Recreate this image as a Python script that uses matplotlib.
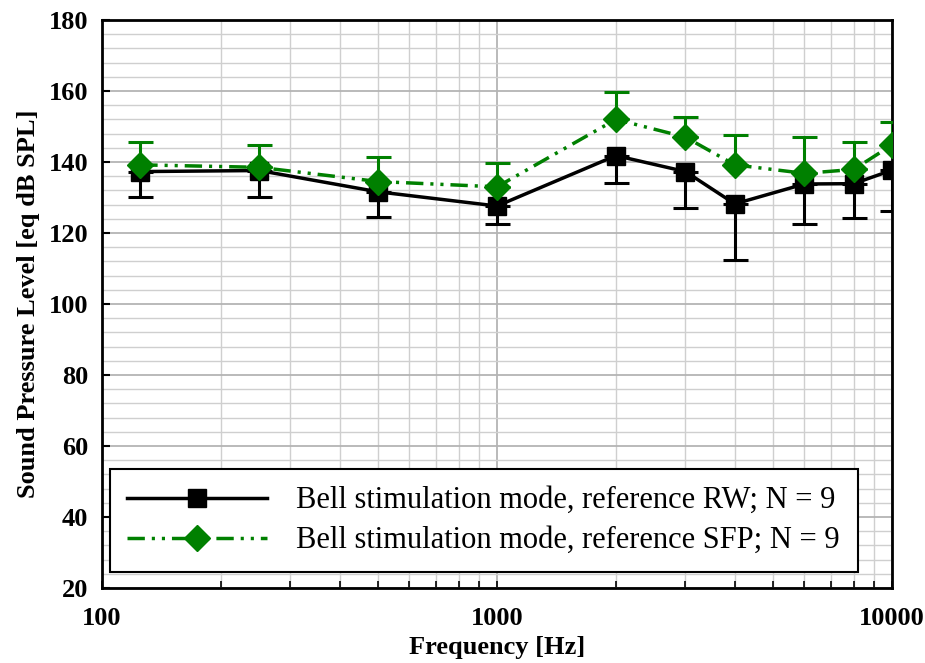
import matplotlib
matplotlib.use("Agg")
import matplotlib.pyplot as plt
import numpy as np
from matplotlib.ticker import FixedLocator, NullFormatter, MultipleLocator, LogLocator

freqs = [125, 250, 500, 1000, 2000, 3000, 4000, 6000, 8000, 10000]
rw_mean = [137.3, 137.6, 131.6, 127.6, 141.8, 137.3, 128.2, 133.8, 133.9, 137.7]
rw_err_low = [7.1, 7.4, 7.2, 5.1, 7.8, 10.3, 15.8, 11.3, 9.6, 11.5]
sfp_mean = [139.2, 138.5, 134.5, 133.0, 152.0, 147.0, 139.2, 136.8, 137.9, 144.8]
sfp_err_up = [6.3, 6.3, 6.8, 6.6, 7.6, 5.8, 8.4, 10.3, 7.7, 6.6]

x_ticks = [100, 1000, 10000]
x_tick_labels = ["100", "1000", "10000"]
y_ticks = [20, 40, 60, 80, 100, 120, 140, 160, 180]

label_rw = "Bell stimulation mode, reference RW; N = 9"
label_sfp = "Bell stimulation mode, reference SFP; N = 9"

plt.rcParams['font.family'] = ['Liberation Serif', 'DejaVu Serif']

fig = plt.figure(figsize=(9.25, 6.63), dpi=100)
ax = fig.add_axes([102/925, 1-588/663, 790/925, 568/663])

green = '#008000'

ax.set_xscale('log')
ax.set_xlim(100, 10000)
ax.set_ylim(20, 180)

ax.xaxis.set_major_locator(FixedLocator(x_ticks))
ax.xaxis.set_minor_locator(LogLocator(base=10, subs=np.arange(2, 10)))
ax.xaxis.set_minor_formatter(NullFormatter())
ax.set_xticklabels(x_tick_labels)
ax.yaxis.set_major_locator(FixedLocator(y_ticks))
ax.yaxis.set_minor_locator(MultipleLocator(4))

ax.grid(True, which='major', color='#b4b4b4', lw=1.3, zorder=0)
ax.grid(True, which='minor', color='#cfcfcf', lw=1.0, zorder=0)
ax.set_axisbelow(True)

ax.tick_params(axis='x', which='both', direction='in', length=5, width=1.2,
               top=False, pad=14, labelsize=19)
ax.tick_params(axis='y', which='major', direction='in', length=6, width=1.5,
               right=False, pad=10, labelsize=19)
ax.tick_params(axis='y', which='minor', length=0)
for lab in ax.get_xticklabels() + ax.get_yticklabels():
    lab.set_fontweight('bold')

for sp in ax.spines.values():
    sp.set_linewidth(2.0)

zeros = [0] * len(freqs)
ax.errorbar(freqs, rw_mean, yerr=[rw_err_low, zeros], fmt='none', ecolor='black',
            elinewidth=2.2, capsize=9, capthick=2.2, zorder=3)
ax.plot(freqs, rw_mean, color='black', lw=2.5, marker='s', markersize=13.5,
        label=label_rw, zorder=4)
ax.errorbar(freqs, sfp_mean, yerr=[zeros, sfp_err_up], fmt='none', ecolor=green,
            elinewidth=2.2, capsize=9, capthick=2.2, zorder=5)
ax.plot(freqs, sfp_mean, color=green, lw=2.5, marker='D', markersize=13,
        linestyle=(0, (5, 2, 0.9, 2, 0.9, 2)), label=label_sfp, zorder=6)

ax.set_xlabel("Frequency [Hz]", fontsize=19, fontweight='bold', labelpad=4)
ax.set_ylabel("Sound Pressure Level [eq dB SPL]", fontsize=19, fontweight='bold', labelpad=6)

leg = ax.legend(loc='lower left', bbox_to_anchor=(0.0101, 0.028, 0.947, 0.185),
                mode='expand', fontsize=22, frameon=True, fancybox=False,
                edgecolor='black', framealpha=1, handlelength=4.6,
                handletextpad=0.95, borderaxespad=0, labelspacing=0.36,
                borderpad=0.55)
leg.get_frame().set_linewidth(1.5)

fig.savefig("out.png", dpi=100)
